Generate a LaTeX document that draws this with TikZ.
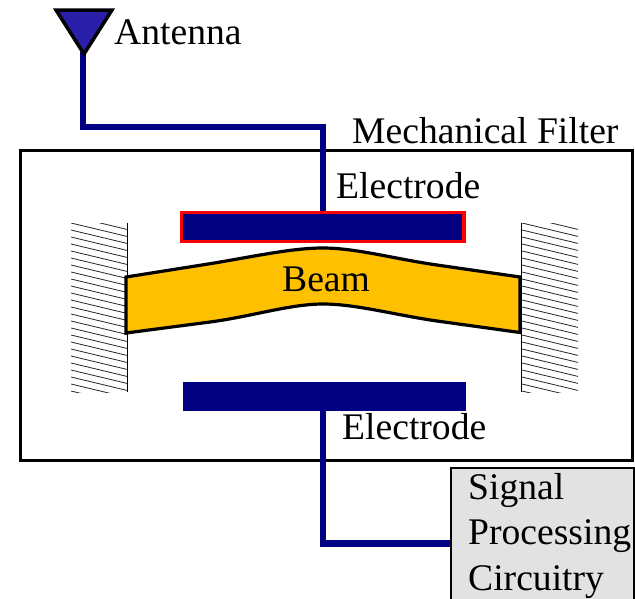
\documentclass[tikz,border=0pt]{standalone}
\usepackage{fontspec}
\setmainfont{Liberation Serif}
\tikzset{
  lab/.style={font=\fontsize{37.6}{40}\selectfont, inner sep=0pt, anchor=base west},
  wire/.style={draw=wirenavy, line width=6.8pt},
  electrode/.style={fill=wirenavy, inner sep=0pt, minimum width=#1, minimum height=28.5pt},
  hatchline/.style={line width=0.8pt, black!85},
  wallline/.style={line width=1.5pt, black}
}
\definecolor{wirenavy}{HTML}{000080}
\definecolor{antblue}{HTML}{2A1FA8}
\definecolor{beamfill}{HTML}{FFC000}
\definecolor{sigfill}{HTML}{E2E2E2}
\begin{document}
\begin{tikzpicture}[x=1pt,y=-1pt]
\useasboundingbox (0,0) rectangle (635,598);
\fill[white] (0,0) rectangle (635,598);
% filter box
\node[draw=black, line width=3pt, minimum width=612pt, minimum height=310pt, inner sep=0pt] (filter) at (326.5,305) {};
% signal box
\path[fill=sigfill, draw=black, line width=2pt] (450.5,468) rectangle (634,604);
\coordinate (sigwest) at (450,543.5);
% hatching
\begin{scope}
\clip (71,223) rectangle (127,392);
\foreach \k in {-2,...,24} \draw[hatchline] (71,223+7*\k) -- (127,236.4+7*\k);
\end{scope}
\begin{scope}
\clip (522,223) rectangle (578,392);
\foreach \k in {-2,...,24} \draw[hatchline] (522,223+7*\k) -- (578,236.4+7*\k);
\end{scope}
\draw[wallline] (127.5,223) -- (127.5,392);
\draw[wallline] (521.5,223) -- (521.5,392);
% beam
\draw[fill=beamfill, draw=black, line width=3.2pt, line join=miter]
  (126,277) -- (205,264.5) .. controls (250,257.4) and (290,248) .. (323,248)
  .. controls (356,248) and (395,259) .. (437,265) -- (520,277)
  -- (520,332.5) -- (437,321)
  .. controls (395,315) and (356,304) .. (323,304)
  .. controls (290,304) and (250,316.8) .. (210,322) -- (126,333) -- cycle;
\node[lab] (beam) at (282,291) {Beam};
% antenna
\coordinate (ant) at (83,52);
\coordinate (wiretop) at (323,127);
% electrodes
\node[electrode=282.4pt, draw=red, line width=3.3pt] (top) at (322.9,227) {};
\node[electrode=282.6pt] (bot) at (324.4,396.5) {};
% wires
\draw[wire, line join=miter] (ant) -- (83,127) -- (wiretop) -- (wiretop |- top.north);
\draw[wire, line join=miter] (wiretop |- bot.south) -- (323,543.5) -- (sigwest);
\draw[fill=antblue, draw=black, line width=3.5pt, line join=miter] (56,10) -- (112,10) -- (84,54) -- cycle;
% labels
\node[lab] (lant) at (114,44) {Antenna};
\node[lab] (lmech) at (352,143) {Mechanical Filter};
\node[lab] (ltop) at (336,198) {Electrode};
\node[lab] (lbot) at (342,439) {Electrode};
\node[lab] (s1) at (468,499) {Signal};
\node[lab] (s2) at (468,544) {Processing};
\node[lab] (s3) at (468,590) {Circuitry};
\end{tikzpicture}
\end{document}
